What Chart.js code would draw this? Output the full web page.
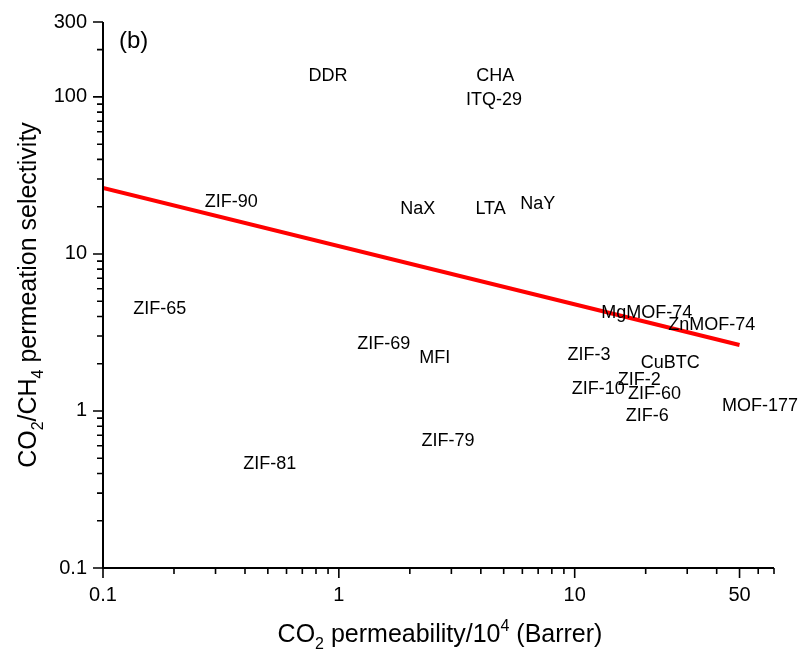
<!DOCTYPE html>
<html>
<head>
<meta charset="utf-8">
<script src="https://cdn.jsdelivr.net/npm/chart.js@4"></script>
<style>
  html, body { margin: 0; padding: 0; background: #fff; }
  #wrap { width: 801px; height: 651px; position: relative; }
</style>
</head>
<body>
<div id="wrap"><canvas id="chart"></canvas></div>
<script>
// materials placed on the CO2/CH4 Robeson plot
const materials = [
  "DDR", "CHA", "ITQ-29", "ZIF-90", "NaX", "LTA", "NaY",
  "ZIF-65", "ZIF-69", "MFI", "ZIF-3", "MgMOF-74", "ZnMOF-74",
  "CuBTC", "ZIF-2", "ZIF-10", "ZIF-60", "ZIF-6", "MOF-177",
  "ZIF-79", "ZIF-81",
];
const permeability = [
  0.9, 4.6, 4.55, 0.35, 2.16, 4.4, 6.97,
  0.174, 1.55, 2.55, 11.5, 20.2, 38.1,
  25.4, 18.8, 12.6, 21.8, 20.3, 61,
  2.9, 0.51,
];
const selectivity = [
  136, 136, 96, 21.5, 19.4, 19.2, 20.8,
  4.48, 2.68, 2.16, 2.28, 4.22, 3.54,
  2.03, 1.58, 1.38, 1.29, 0.93, 1.07,
  0.646, 0.462,
];

// Robeson upper bound
const boundPermeability = [0.1, 50];
const boundSelectivity = [26.3, 2.63];

const xTickLabels = ["0.1", "1", "10", "50"];
const yTickLabels = ["0.1", "1", "10", "100", "300"];

const FONT = "'Liberation Sans', Arial, Helvetica, sans-serif";

function logTicks(min, max) {
  const out = [];
  for (let e = -1; e <= 2; e++) {
    for (let m = 1; m <= 9; m++) {
      const v = +(m * Math.pow(10, e)).toPrecision(3);
      if (v >= min - 1e-9 && v <= max + 1e-9) out.push(v);
    }
  }
  return out;
}

function fmt(v) {
  return v < 1 ? v.toFixed(1) : String(Math.round(v));
}

const xTicks = logTicks(0.1, 70);
const yTicks = logTicks(0.1, 300);

// axis lines + major/minor ticks
const axesPlugin = {
  id: "axes",
  afterDraw(chart) {
    const { ctx, chartArea, scales } = chart;
    const { left, right, top, bottom } = chartArea;
    ctx.save();
    ctx.strokeStyle = "#000";
    ctx.lineWidth = 2;
    ctx.beginPath();
    ctx.moveTo(left, top);
    ctx.lineTo(left, bottom);
    ctx.lineTo(right, bottom);
    ctx.stroke();
    ctx.lineWidth = 1.6;
    ctx.beginPath();
    xTicks.forEach((v) => {
      const px = scales.x.getPixelForValue(v);
      const len = xTickLabels.includes(fmt(v)) ? 10 : 6;
      ctx.moveTo(px, bottom);
      ctx.lineTo(px, bottom + len);
    });
    yTicks.forEach((v) => {
      const py = scales.y.getPixelForValue(v);
      const len = yTickLabels.includes(fmt(v)) ? 10 : 6;
      ctx.moveTo(left, py);
      ctx.lineTo(left - len, py);
    });
    ctx.stroke();
    ctx.restore();
  },
};

// draw "a + sub/sup + b" style text runs, returns total width
function drawRuns(ctx, runs, x, y, measureOnly) {
  let w = 0;
  runs.forEach((r) => {
    const size = r.s ? 16 : 25;
    ctx.font = size + "px " + FONT;
    const dy = r.s === "sub" ? 7 : r.s === "sup" ? -11 : 0;
    if (!measureOnly) ctx.fillText(r.t, x + w, y + dy);
    w += ctx.measureText(r.t).width;
  });
  return w;
}

const titlesPlugin = {
  id: "titles",
  afterDraw(chart) {
    const { ctx } = chart;
    ctx.save();
    ctx.fillStyle = "#000";
    ctx.textBaseline = "alphabetic";
    ctx.textAlign = "left";

    const xRuns = [
      { t: "CO" }, { t: "2", s: "sub" }, { t: " permeability/10" },
      { t: "4", s: "sup" }, { t: " (Barrer)" },
    ];
    const xw = drawRuns(ctx, xRuns, 0, 0, true);
    drawRuns(ctx, xRuns, 440 - xw / 2, 642);

    const yRuns = [
      { t: "CO" }, { t: "2", s: "sub" }, { t: "/CH" }, { t: "4", s: "sub" },
      { t: " permeation selectivity" },
    ];
    const yw = drawRuns(ctx, yRuns, 0, 0, true);
    ctx.translate(36, 295);
    ctx.rotate(-Math.PI / 2);
    drawRuns(ctx, yRuns, -yw / 2, 0);
    ctx.restore();

    // panel label
    ctx.save();
    ctx.fillStyle = "#000";
    ctx.font = "24px " + FONT;
    ctx.textBaseline = "alphabetic";
    ctx.fillText("(b)", chart.chartArea.left + 16, chart.chartArea.top + 26);
    ctx.restore();
  },
};

// material names drawn at their data points
const labelPlugin = {
  id: "materialLabels",
  afterDatasetsDraw(chart) {
    const { ctx } = chart;
    const meta = chart.getDatasetMeta(0);
    ctx.save();
    ctx.fillStyle = "#000";
    ctx.font = "18px " + FONT;
    ctx.textAlign = "center";
    ctx.textBaseline = "middle";
    meta.data.forEach((pt, i) => {
      ctx.fillText(materials[i], pt.x, pt.y);
    });
    ctx.restore();
  },
};

const ctx = document.getElementById("chart").getContext("2d");
new Chart(ctx, {
  type: "scatter",
  data: {
    datasets: [
      {
        label: "Materials",
        data: materials.map((m, i) => ({ x: permeability[i], y: selectivity[i] })),
        pointRadius: 0,
        showLine: false,
      },
      {
        label: "Robeson upper bound",
        type: "line",
        data: boundPermeability.map((x, i) => ({ x, y: boundSelectivity[i] })),
        borderColor: "#ff0000",
        borderWidth: 4,
        pointRadius: 0,
        fill: false,
        tension: 0,
      },
    ],
  },
  options: {
    responsive: true,
    maintainAspectRatio: false,
    animation: false,
    layout: { padding: { top: 22, right: 27, left: 0, bottom: 0 } },
    plugins: {
      legend: { display: false },
      tooltip: { enabled: false },
    },
    scales: {
      x: {
        type: "logarithmic",
        min: 0.1,
        max: 70,
        afterBuildTicks: (scale) => {
          scale.ticks = xTicks.map((v) => ({ value: v }));
        },
        afterFit: (scale) => {
          scale.height = 83;
          scale.paddingLeft = 0;
          scale.paddingRight = 0;
        },
        grid: { display: false, drawTicks: false },
        border: { display: false },
        ticks: {
          autoSkip: false,
          maxRotation: 0,
          padding: 15,
          color: "#000",
          font: { family: FONT, size: 20 },
          callback: (v) => (xTickLabels.includes(fmt(v)) ? fmt(v) : ""),
        },
      },
      y: {
        type: "logarithmic",
        min: 0.1,
        max: 300,
        afterBuildTicks: (scale) => {
          scale.ticks = yTicks.map((v) => ({ value: v }));
        },
        afterFit: (scale) => {
          scale.width = 103;
          scale.paddingTop = 0;
          scale.paddingBottom = 0;
        },
        grid: { display: false, drawTicks: false },
        border: { display: false },
        ticks: {
          autoSkip: false,
          padding: 16,
          color: "#000",
          font: { family: FONT, size: 20 },
          callback: (v) => (yTickLabels.includes(fmt(v)) ? fmt(v) : ""),
        },
      },
    },
  },
  plugins: [axesPlugin, titlesPlugin, labelPlugin],
});
</script>
</body>
</html>
